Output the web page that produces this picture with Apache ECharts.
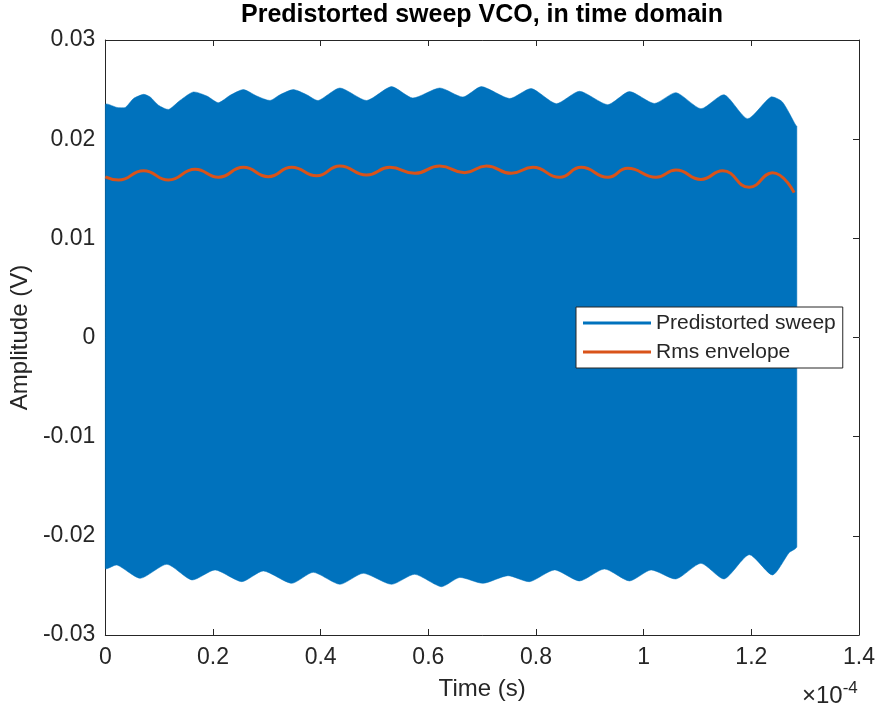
<!DOCTYPE html>
<html>
<head>
<meta charset="utf-8">
<script src="https://cdn.jsdelivr.net/npm/echarts@6/dist/echarts.min.js"></script>
<style>
  html, body { margin: 0; padding: 0; background: #fff; }
  #chart { width: 878px; height: 711px; }
</style>
</head>
<body>
<div id="chart"></div>
<script>
// Time samples are in microseconds; axis labels show them in units of 1e-4 s.
const upperTime = [0, 2.17, 3.71, 5.25, 7.10, 8.34, 9.88, 11.74, 13.91, 16.37, 18.86, 21.01, 23.18, 25.64, 28.13, 30.60, 32.45, 34.92, 37.40, 39.55, 43.57, 48.53, 53.16, 57.11, 62.12, 66.44, 69.85, 75.10, 79.12, 83.76, 88.08, 93.33, 97.35, 101.98, 106.01, 110.64, 114.96, 119.29, 123.62, 125.77, 128.26, 128.45];
const upperAmp = [0.02348, 0.0232, 0.0232, 0.0241, 0.02452, 0.02425, 0.02342, 0.0230, 0.02392, 0.02476, 0.02435, 0.02368, 0.02442, 0.0250, 0.02435, 0.0239, 0.02448, 0.0250, 0.02448, 0.0239, 0.02516, 0.0239, 0.0253, 0.02415, 0.02516, 0.02425, 0.0253, 0.0241, 0.0251, 0.02358, 0.02483, 0.02348, 0.0248, 0.0236, 0.02469, 0.02307, 0.02448, 0.02206, 0.02425, 0.02375, 0.0214, 0.0213];

const lowerTime = [0, 2.17, 6.49, 11.44, 16.08, 20.40, 25.35, 29.35, 34.62, 38.62, 43.57, 47.90, 53.16, 57.48, 62.43, 65.83, 70.15, 74.78, 78.81, 83.44, 88.08, 92.71, 97.35, 101.37, 106.01, 110.64, 114.96, 119.60, 123.92, 127.02, 128.45];
const lowerAmp = [-0.02327, -0.02294, -0.02428, -0.02287, -0.02445, -0.02344, -0.02462, -0.02354, -0.02479, -0.02368, -0.02489, -0.02378, -0.02489, -0.02388, -0.02513, -0.0242, -0.02479, -0.02402, -0.02462, -0.02344, -0.02455, -0.02334, -0.02455, -0.02344, -0.02435, -0.02277, -0.02435, -0.0219, -0.02395, -0.0217, -0.0211];

const rmsTime = [0, 2.47, 7.10, 11.74, 16.69, 21.01, 25.64, 30.28, 34.62, 39.26, 43.57, 48.53, 52.85, 57.48, 62.12, 66.75, 70.78, 75.41, 79.42, 84.37, 88.39, 93.33, 97.03, 102.30, 106.01, 110.64, 114.65, 119.60, 123.92, 127.95];
const rmsAmp = [0.0162, 0.01588, 0.01682, 0.01588, 0.01696, 0.01616, 0.01716, 0.01622, 0.01716, 0.0163, 0.0173, 0.01639, 0.01716, 0.01656, 0.0173, 0.01662, 0.0173, 0.01656, 0.01716, 0.01616, 0.01716, 0.01616, 0.01706, 0.01616, 0.01689, 0.01594, 0.01682, 0.01515, 0.01662, 0.01461];

const seriesNames = ['Predistorted sweep', 'Rms envelope'];
const titleText = 'Predistorted sweep VCO, in time domain';
const xLabel = 'Time (s)';
const yLabel = 'Amplitude (V)';

const FONT = "'Liberation Sans', Arial, Helvetica, sans-serif";
const INK = '#262626';
const BLUE = '#0072BD';
const ORANGE = '#D95319';

const zip = (xs, ys) => xs.map((x, i) => [x, ys[i]]);
const upperPts = zip(upperTime, upperAmp);
const lowerPts = zip(lowerTime, lowerAmp);
const rmsPts = zip(rmsTime, rmsAmp);

const chart = echarts.init(document.getElementById('chart'), null, { renderer: 'canvas' });

const axisCommon = {
  type: 'value',
  axisLine: { show: true, onZero: false, lineStyle: { color: INK, width: 1 } },
  axisTick: { show: true, inside: true, length: 6, lineStyle: { color: INK, width: 1 } },
  splitLine: { show: false }
};

chart.setOption({
  animation: false,
  backgroundColor: '#fff',
  grid: { left: 105, right: 18, top: 40, bottom: 76, containLabel: false },
  xAxis: [
    Object.assign({}, axisCommon, {
      position: 'bottom', min: 0, max: 140, interval: 20,
      axisLabel: {
        margin: 11, color: INK, fontFamily: FONT, fontSize: 23,
        formatter: v => String(+(v / 100).toFixed(1))
      },
      name: xLabel, nameLocation: 'middle', nameGap: 42,
      nameTextStyle: { color: INK, fontFamily: FONT, fontSize: 24 }
    }),
    Object.assign({}, axisCommon, {
      position: 'top', min: 0, max: 140, interval: 20,
      axisLabel: { show: false }
    })
  ],
  yAxis: [
    Object.assign({}, axisCommon, {
      position: 'left', min: -0.03, max: 0.03, interval: 0.01,
      axisLabel: {
        margin: 10, color: INK, fontFamily: FONT, fontSize: 23,
        formatter: v => String(+v.toFixed(2))
      },
      name: yLabel, nameLocation: 'middle', nameGap: 62, nameRotate: 90,
      nameTextStyle: { color: INK, fontFamily: FONT, fontSize: 24 }
    }),
    Object.assign({}, axisCommon, {
      position: 'right', min: -0.03, max: 0.03, interval: 0.01,
      axisLabel: { show: false }
    })
  ],
  legend: {
    orient: 'vertical',
    left: 576, top: 307,
    padding: [5, 7, 5, 7],
    itemGap: 7,
    itemWidth: 68, itemHeight: 3,
    backgroundColor: '#fff',
    borderColor: INK, borderWidth: 1,
    textStyle: { color: INK, fontFamily: FONT, fontSize: 21, lineHeight: 22 },
    data: [
      { name: seriesNames[0], icon: 'rect' },
      { name: seriesNames[1], icon: 'rect' }
    ]
  },
  graphic: [
    {
      type: 'text', x: 482, y: 3,
      style: {
        text: titleText, textAlign: 'center', textVerticalAlign: 'top',
        fill: '#000', font: 'bold 25px ' + FONT
      }
    },
    {
      type: 'text', x: 802, y: 680,
      style: {
        text: '{b|×10}{s|-4}',
        rich: {
          b: { fontFamily: FONT, fontSize: 24, fill: INK, verticalAlign: 'bottom', lineHeight: 28 },
          s: { fontFamily: FONT, fontSize: 17, fill: INK, verticalAlign: 'top', lineHeight: 28, padding: [0, 0, 14, 0] }
        }
      }
    }
  ],
  series: [
    {
      name: seriesNames[0],
      type: 'custom',
      xAxisIndex: 0, yAxisIndex: 0,
      itemStyle: { color: BLUE },
      data: [0],
      renderItem: function (params, api) {
        // One filled outline: upper envelope forward, lower envelope back.
        const pts = upperPts.map(p => api.coord(p))
          .concat(lowerPts.slice().reverse().map(p => api.coord(p)));
        const xs = pts.map(p => p[0]);
        const ys = pts.map(p => p[1]);
        const box = [
          [Math.min.apply(null, xs), Math.min.apply(null, ys)],
          [Math.max.apply(null, xs), Math.max.apply(null, ys)]
        ];
        return {
          type: 'polygon',
          shape: { points: pts, smooth: 0.22, smoothConstraint: box },
          style: { fill: BLUE, stroke: BLUE, lineWidth: 0.5 }
        };
      },
      z: 2
    },
    {
      name: seriesNames[1],
      type: 'line',
      xAxisIndex: 0, yAxisIndex: 0,
      data: rmsPts,
      smooth: 0.5,
      showSymbol: false,
      color: ORANGE,
      lineStyle: { color: ORANGE, width: 3 },
      z: 3
    }
  ]
});
</script>
</body>
</html>
